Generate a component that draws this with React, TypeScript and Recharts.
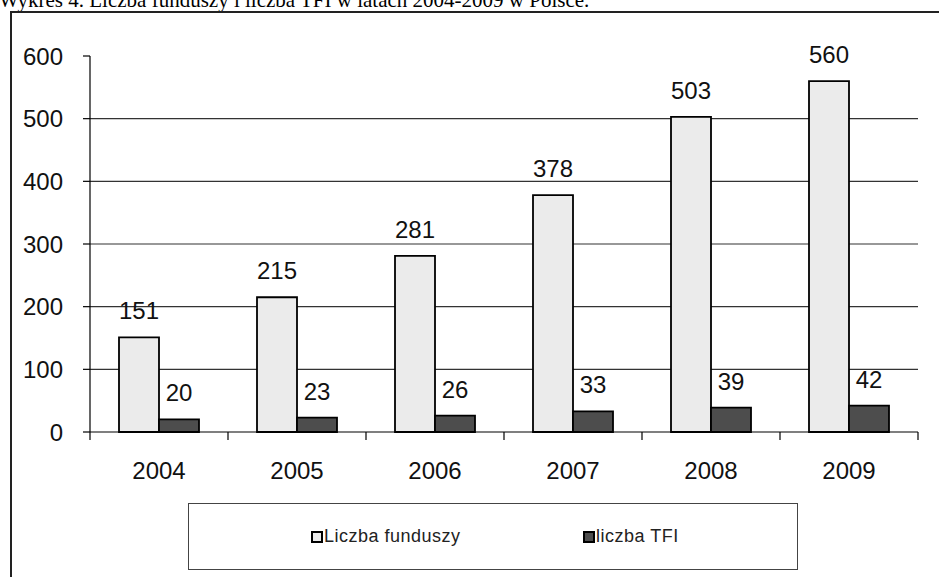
import { Bar, BarChart, CartesianGrid, XAxis, YAxis, Legend, LabelList } from "recharts";

const years = ["2004", "2005", "2006", "2007", "2008", "2009"];
const funduszy = [151, 215, 281, 378, 503, 560];
const tfi = [20, 23, 26, 33, 39, 42];
const yTicks = [0, 100, 200, 300, 400, 500, 600];
const gridValues = [100, 200, 300, 400, 500];

const data = years.map((year, i) => ({ year, funduszy: funduszy[i], tfi: tfi[i] }));

const FONT = "'Liberation Sans', Arial, sans-serif";

// tick with label in the middle and tick marks at category boundaries
const XTick = (props: any) => {
  const { x, y, payload, index, visibleTicksCount } = props;
  const half = payload?.offset ?? 69;
  const last = index === visibleTicksCount - 1;
  return (
    <g>
      <line x1={x - half} x2={x - half} y1={y} y2={y + 8} stroke="#000" strokeWidth={1.2} />
      {last && <line x1={x + half} x2={x + half} y1={y} y2={y + 8} stroke="#000" strokeWidth={1.2} />}
      <text x={x} y={y + 47} textAnchor="middle" fontSize={24} fontFamily={FONT} fill="#111">
        {payload.value}
      </text>
    </g>
  );
};

const renderLegend = (props: any) => {
  const { payload } = props;
  return (
    <div
      style={{
        position: "relative",
        width: 610,
        height: 67,
        border: "1.5px solid #444",
        boxSizing: "border-box",
        background: "#fff",
      }}
    >
      {payload.map((entry: any, i: number) => (
        <div
          key={entry.value}
          style={{
            position: "absolute",
            left: 122 + i * 272,
            top: 22,
            display: "flex",
            alignItems: "center",
            fontFamily: FONT,
            fontSize: 18,
            letterSpacing: 0.5,
            color: "#222",
          }}
        >
          <span
            style={{
              display: "inline-block",
              width: 12,
              height: 12,
              boxSizing: "border-box",
              border: "2px solid #000",
              background: entry.color,
              marginRight: 1,
            }}
          />
          {entry.value}
        </div>
      ))}
    </div>
  );
};

export default function App() {
  return (
    <div style={{ position: "absolute", left: 0, top: 0, width: 939, height: 577, overflow: "hidden", background: "#fff" }}>
      <div
        style={{
          position: "absolute",
          left: -1,
          top: -10,
          fontFamily: "'Liberation Serif', 'Times New Roman', serif",
          fontSize: 21,
          lineHeight: "21px",
          whiteSpace: "nowrap",
          color: "#000",
        }}
      >
        Wykres 4. Liczba funduszy i liczba TFI w latach 2004-2009 w Polsce.
      </div>
      <div
        style={{
          position: "absolute",
          left: 10,
          top: 11,
          width: 1000,
          height: 700,
          border: "2px solid #222",
        }}
      />
      <div style={{ position: "absolute", left: 0, top: 0 }}>
        <BarChart
          width={939}
          height={577}
          data={data}
          margin={{ top: 56, right: 21, left: 30, bottom: 115 }}
          barSize={40}
          barGap={0}
        >
          <CartesianGrid vertical={false} horizontalValues={gridValues} stroke="#333" strokeWidth={1.2} />
          <XAxis
            dataKey="year"
            height={30}
            tickLine={false}
            tickSize={0}
            tickMargin={0}
            axisLine={{ stroke: "#000", strokeWidth: 1.2 }}
            tick={<XTick />}
            interval={0}
          />
          <YAxis
            width={60}
            domain={[0, 600]}
            ticks={yTicks}
            interval={0}
            tickSize={7}
            tickMargin={20}
            axisLine={{ stroke: "#000", strokeWidth: 1.2 }}
            tickLine={{ stroke: "#000", strokeWidth: 1.2 }}
            tick={{ fontSize: 24, fontFamily: FONT, fill: "#111" }}
          />
          <Legend
            layout="horizontal"
            align="center"
            verticalAlign="middle"
            wrapperStyle={{ left: 188, top: 503, width: 610, height: 67 }}
            content={renderLegend}
          />
          <Bar dataKey="funduszy" name="Liczba funduszy" fill="#ebebeb" stroke="#000" strokeWidth={1.8} isAnimationActive={false}>
            <LabelList dataKey="funduszy" position="top" offset={18} fontSize={24} fontFamily={FONT} fill="#111" />
          </Bar>
          <Bar dataKey="tfi" name="liczba TFI" fill="#4d4d4d" stroke="#000" strokeWidth={1.8} isAnimationActive={false}>
            <LabelList dataKey="tfi" position="top" offset={18} fontSize={24} fontFamily={FONT} fill="#111" />
          </Bar>
        </BarChart>
      </div>
    </div>
  );
}
